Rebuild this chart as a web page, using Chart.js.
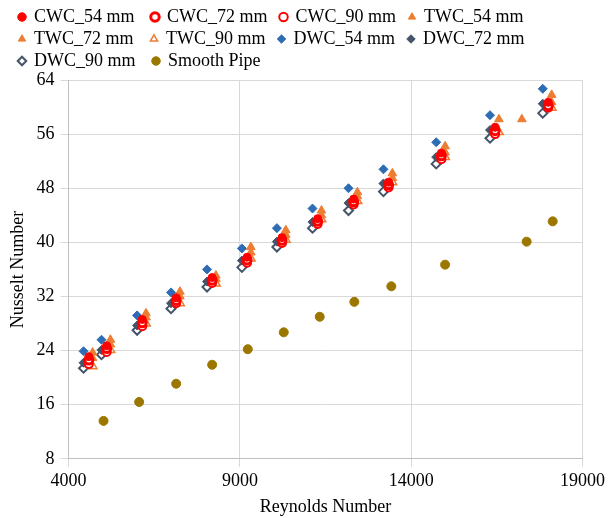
<!DOCTYPE html>
<html>
<head>
<meta charset="utf-8">
<script src="https://cdn.jsdelivr.net/npm/chart.js@4"></script>
<style>
  html, body { margin: 0; padding: 0; background: #fff; }
  #wrap { width: 609px; height: 518px; }
</style>
</head>
<body>
<div id="wrap"><canvas id="nuChart"></canvas></div>
<script>
// -- DATA
const xTicks = [4000, 9000, 14000, 19000];
const yTicks = [8, 16, 24, 32, 40, 48, 56, 64];

const reDWC = [4436, 4960, 6000, 6990, 8040, 9058, 10080, 11120, 12170, 13190, 14730, 16300, 17840];
const nuDWC54 = [23.9, 25.6, 29.2, 32.6, 36.0, 39.1, 42.1, 45.0, 48.0, 50.8, 54.8, 58.8, 62.7];
const nuDWC72 = [22.2, 24.1, 27.7, 31.0, 34.2, 37.3, 40.1, 43.0, 45.8, 48.7, 52.6, 56.6, 60.5];
const nuDWC90 = [21.4, 23.4, 27.0, 30.2, 33.4, 36.3, 39.3, 42.1, 44.7, 47.5, 51.6, 55.4, 59.1];

const reCWC = [4590, 5110, 6150, 7140, 8190, 9210, 10230, 11270, 12320, 13340, 14880, 16450, 18000];
const nuCWC54 = [23.1, 24.7, 28.6, 31.8, 34.8, 37.8, 40.7, 43.5, 46.4, 48.9, 53.2, 57.0, 60.7];
const nuCWC72 = [22.6, 24.3, 28.1, 31.4, 34.4, 37.4, 40.3, 43.1, 46.0, 48.5, 52.8, 56.5, 60.2];
const nuCWC90 = [22.0, 23.8, 27.6, 31.0, 34.0, 37.0, 39.9, 42.7, 45.6, 48.1, 52.3, 56.0, 59.9];

const reTWC54 = [4700, 5220, 6260, 7250, 8300, 9320, 10340, 11380, 12430, 13450, 14990, 16560, 18100];
const nuTWC54 = [23.7, 25.6, 29.5, 32.7, 35.1, 39.3, 41.8, 44.7, 47.4, 50.2, 54.2, 58.2, 61.8];
const reTWC72 = [4700, 5220, 6260, 7250, 8300, 9320, 10340, 11380, 12430, 13450, 14990, 17230, 18100];
const nuTWC72 = [22.9, 24.9, 28.9, 32.0, 34.6, 38.5, 41.1, 44.0, 46.8, 49.5, 53.3, 58.2, 60.7];
const reTWC90 = [4700, 5220, 6260, 7250, 8300, 9320, 10340, 11380, 12430, 13450, 14990, 16560, 18100];
const nuTWC90 = [21.7, 24.1, 28.0, 31.0, 33.9, 37.6, 40.4, 43.4, 46.1, 48.9, 52.6, 56.3, 59.9];

const reSmooth = [5020, 6060, 7140, 8190, 9230, 10280, 11330, 12340, 13420, 14990, 17370, 18130];
const nuSmooth = [13.6, 16.4, 19.1, 21.9, 24.2, 26.7, 29.0, 31.2, 33.5, 36.7, 40.1, 43.1];

const RED = "#ff0000";
const ORANGE = "#ed7d31";
const BLUE = "#2e6db4";
const SLATE = "#44546a";
const GOLD = "#9c7700";

// trailing spaces so the legend items line up in four columns
const LEGEND_PAD = ["   ", "  ", "  ", "", "   ", "  ", "  ", "", "   ", ""];

function pts(xs, ys) {
    return xs.map((x, i) => ({ x: x, y: ys[i] }));
}

function series(label, xs, ys, style) {
    return Object.assign({
        label: label,
        data: pts(xs, ys),
        showLine: false,
        pointRadius: 4,
        pointHoverRadius: 4,
        pointBorderWidth: 1
    }, style);
}

const datasets = [
    series("CWC_54 mm", reCWC, nuCWC54, { pointStyle: "circle", backgroundColor: RED, borderColor: RED }),
    series("CWC_72 mm", reCWC, nuCWC72, { pointStyle: "circle", backgroundColor: "#fff", borderColor: RED, pointBorderWidth: 3 }),
    series("CWC_90 mm", reCWC, nuCWC90, { pointStyle: "circle", backgroundColor: "#fff", borderColor: RED, pointBorderWidth: 2 }),
    series("TWC_54 mm", reTWC54, nuTWC54, { pointStyle: "triangle", pointRadius: 5, backgroundColor: ORANGE, borderColor: ORANGE }),
    series("TWC_72 mm", reTWC72, nuTWC72, { pointStyle: "triangle", pointRadius: 5, backgroundColor: ORANGE, borderColor: ORANGE }),
    series("TWC_90 mm", reTWC90, nuTWC90, { pointStyle: "triangle", pointRadius: 5, backgroundColor: "#fff", borderColor: ORANGE, pointBorderWidth: 1.5 }),
    series("DWC_54 mm", reDWC, nuDWC54, { pointStyle: "rectRot", pointRadius: 4.5, backgroundColor: BLUE, borderColor: BLUE }),
    series("DWC_72 mm", reDWC, nuDWC72, { pointStyle: "rectRot", pointRadius: 4.5, backgroundColor: SLATE, borderColor: SLATE }),
    series("DWC_90 mm", reDWC, nuDWC90, { pointStyle: "rectRot", pointRadius: 4.5, backgroundColor: "#fff", borderColor: SLATE, pointBorderWidth: 2 }),
    series("Smooth Pipe", reSmooth, nuSmooth, { pointStyle: "circle", pointRadius: 4.5, backgroundColor: GOLD, borderColor: GOLD })
];

const FONT = "'Liberation Serif', 'Times New Roman', serif";

// nudge the legend to the right without moving the plot area
const legendShift = {
    id: "legendShift",
    afterLayout(chart) {
        if (chart.legend) chart.legend.left += 10;
    }
};

new Chart(document.getElementById("nuChart").getContext("2d"), {
    type: "scatter",
    data: { datasets: datasets },
    plugins: [legendShift],
    options: {
        responsive: true,
        maintainAspectRatio: false,
        animation: false,
        layout: { padding: { left: 5, right: 17, top: 4, bottom: 0 } },
        plugins: {
            tooltip: { enabled: false },
            legend: {
                position: "top",
                align: "start",
                labels: {
                    color: "#000",
                    font: { family: FONT, size: 18, lineHeight: 1.0 },
                    usePointStyle: true,
                    boxWidth: 6,
                    boxHeight: 6,
                    padding: 4,
                    generateLabels: chart => {
                        const items = Chart.defaults.plugins.legend.labels.generateLabels(chart);
                        items.forEach((it, i) => { it.text = it.text + (LEGEND_PAD[i] || ""); });
                        return items;
                    }
                }
            }
        },
        scales: {
            x: {
                type: "linear",
                min: xTicks[0],
                max: xTicks[xTicks.length - 1],
                afterBuildTicks: axis => { axis.ticks = xTicks.map(v => ({ value: v })); },
                grid: { color: "#d9d9d9" },
                border: { color: "#bfbfbf" },
                ticks: { color: "#000", font: { family: FONT, size: 18 }, padding: 4, maxRotation: 0, callback: v => String(v) },
                title: { display: true, text: "Reynolds Number", color: "#000", font: { family: FONT, size: 18 }, padding: 0 }
            },
            y: {
                type: "linear",
                min: yTicks[0],
                max: yTicks[yTicks.length - 1],
                afterBuildTicks: axis => { axis.ticks = yTicks.map(v => ({ value: v })); },
                grid: { color: "#d9d9d9" },
                border: { color: "#bfbfbf" },
                ticks: { color: "#000", font: { family: FONT, size: 18 }, padding: 6, callback: v => String(v) },
                title: { display: true, text: "Nusselt Number", color: "#000", font: { family: FONT, size: 18 }, padding: 2 }
            }
        }
    }
});
</script>
</body>
</html>
